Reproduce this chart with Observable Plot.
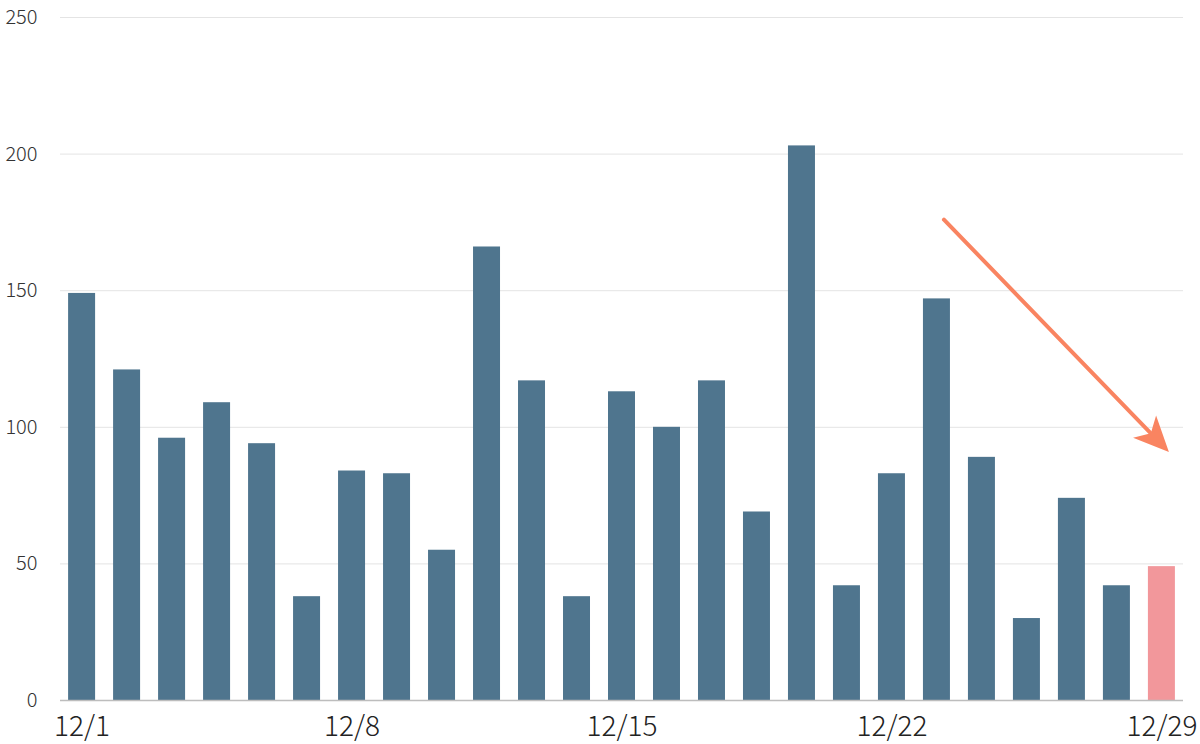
<!DOCTYPE html>
<html>
<head>
<meta charset="utf-8">
<script src="https://cdn.jsdelivr.net/npm/d3@7"></script>
<script src="https://cdn.jsdelivr.net/npm/@observablehq/plot@0.6"></script>
<style>
  html, body { margin: 0; padding: 0; background: #fff; }
  #chart svg { display: block; }
</style>
</head>
<body>
<div id="chart"></div>
<script>
// Categories (days shown), values, highlight
const days = ["12/1","12/2","12/3","12/4","12/5","12/6",
              "12/8","12/9","12/10","12/11","12/12","12/13",
              "12/15","12/16","12/17","12/18","12/19","12/20",
              "12/22","12/23","12/24","12/25","12/26","12/27",
              "12/29"];
const counts = [149,121,96,109,94,38,
                84,83,55,166,117,38,
                113,100,117,69,203,42,
                83,147,89,30,74,42,
                49];
const highlightDay = "12/29";
const xTickLabels = ["12/1","12/8","12/15","12/22","12/29"];
const yTicks = [0,50,100,150,200,250];
// Trend arrow annotation (data coordinates)
const arrowFrom = {day: "12/23", value: 176};
const arrowTo = {day: "12/29", value: 91};

const data = days.map((d, i) => ({day: d, value: counts[i], hi: d === highlightDay}));
const arrowData = [{x1: arrowFrom.day, y1: arrowFrom.value, x2: arrowTo.day, y2: arrowTo.value}];

// Concave arrowhead symbol, pointing up, tip at origin
const headSymbol = {
  draw(context, size) {
    context.moveTo(0, 0);
    context.lineTo(16, 35);
    context.lineTo(0, 26);
    context.lineTo(-16, 35);
    context.closePath();
  }
};

const chart = Plot.plot({
  width: 1200,
  height: 744,
  marginLeft: 60,
  marginRight: 17,
  marginTop: 17,
  marginBottom: 44,
  style: {fontFamily: "'Noto Sans CJK JP', 'Noto Sans', sans-serif", background: "#fff"},
  x: {domain: days, paddingInner: 0.4, paddingOuter: 0.18, round: false, label: null},
  y: {domain: [0, 250], label: null},
  marks: [
    Plot.gridY(yTicks, {stroke: "#e4e4e4", strokeOpacity: 1}),
    Plot.barY(data, {x: "day", y: "value", fill: d => d.hi ? "#f2979b" : "#4f758e"}),
    Plot.ruleY([0], {stroke: "#bdbdbd", strokeWidth: 1.5}),
    Plot.axisY(yTicks, {tickSize: 0, tickPadding: 23, fontSize: 20, fontWeight: 300, fill: "#333", label: null, style: "letter-spacing: 1.5px"}),
    Plot.axisX(xTickLabels, {tickSize: 0, tickPadding: 16, fontSize: 28, fontWeight: 300, fill: "#222", label: null, style: "letter-spacing: 3px"}),
    Plot.arrow(arrowData, {x1: "x1", y1: "y1", x2: "x2", y2: "y2", dx: 7, stroke: "#f98461", strokeWidth: 4, headLength: 0, insetEnd: 20}),
    Plot.dot(arrowData, {x: "x2", y: "y2", dx: 7, symbol: headSymbol, fill: "#f98461", stroke: "none", rotate: 136, r: 10})
  ]
});
document.getElementById("chart").append(chart);
</script>
</body>
</html>
